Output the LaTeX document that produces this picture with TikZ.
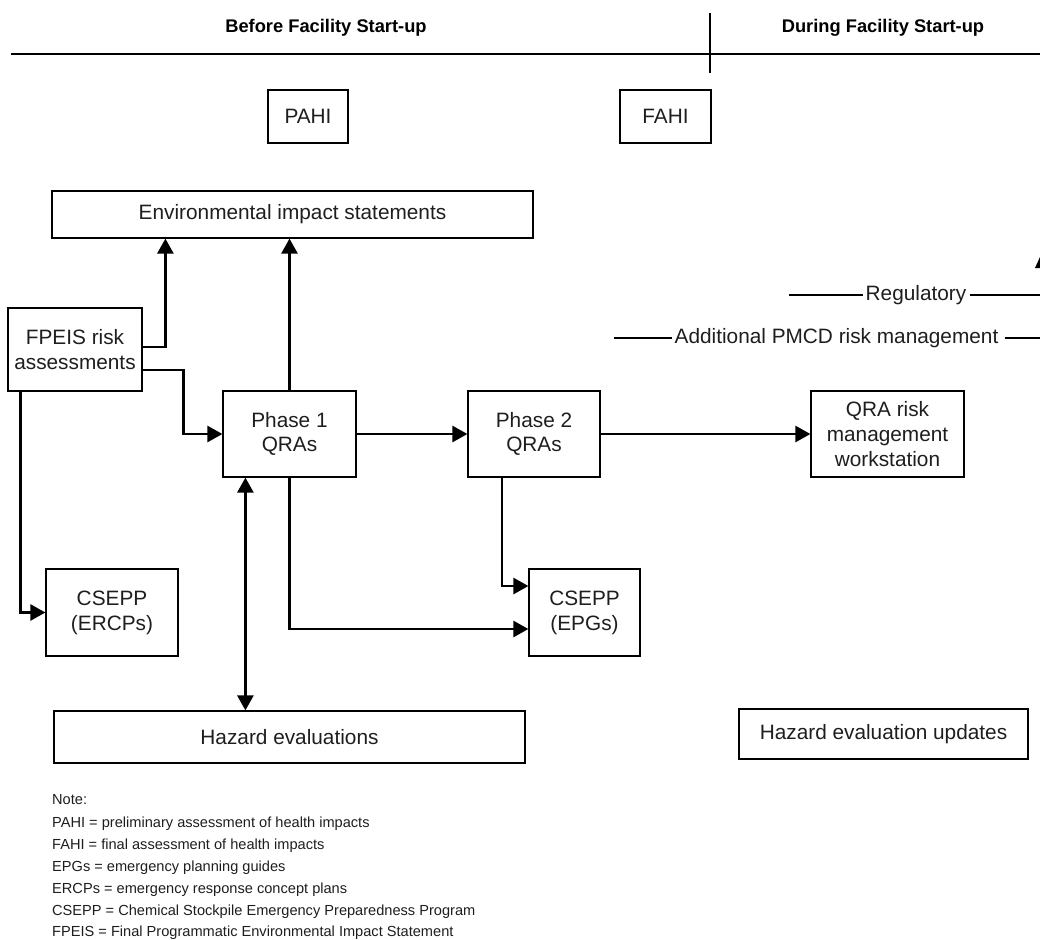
\documentclass[tikz,border=0pt]{standalone}
\usepackage{fontspec}
\setmainfont{Liberation Sans}
\usetikzlibrary{arrows.meta,calc}
\definecolor{txt}{HTML}{1e1e1e}
\tikzset{
  box/.style={draw=black, line width=1.2pt, inner sep=0pt, align=center, text=txt,
    font=\fontsize{20.8}{24.8}\selectfont},
  tip/.tip={Triangle[length=15pt,width=16pt]},
  conn/.style={line width=2.6pt, -tip},
  biconn/.style={line width=2.6pt, tip-tip},
  plain/.style={line width=2.6pt},
  head/.style={font=\fontsize{18.3}{22}\selectfont\bfseries, text=black, anchor=base},
  lbl/.style={font=\fontsize{20.8}{24.8}\selectfont, text=txt, inner sep=3pt},
  note/.style={font=\fontsize{14.6}{18}\selectfont, text=txt, anchor=base west, inner sep=0pt}
}
\begin{document}
\begin{tikzpicture}[x=1pt,y=-1pt]
\useasboundingbox (0,0) rectangle (1040,939);
% header
\coordinate (hl) at (11,54);
\coordinate (hr) at (1040,54);
\coordinate (vt) at (710,13);
\coordinate (vb) at (710,73);
\draw[line width=2.8pt] (hl) -- (hr);
\draw[line width=2.4pt] (vt) -- (vb);
\node[head] (before) at (326,33) {Before Facility Start-up};
\node[head] (during) at (883,33) {During Facility Start-up};

% boxes
\node[box, minimum width=80pt, minimum height=53pt] (pahi) at (308,116.5) {PAHI};
\node[box, minimum width=91pt, minimum height=53pt] (fahi) at (665.5,116.5) {FAHI};
\node[box, minimum width=481pt, minimum height=47pt] (env) at (292.5,214.5) {Environmental impact statements};
\node[box, minimum width=134pt, minimum height=83pt] (fpeis) at (75,349.5) {FPEIS risk\\assessments};
\node[box, minimum width=133pt, minimum height=86pt] (ph1) at (289.5,434) {Phase 1\\QRAs};
\node[box, minimum width=132pt, minimum height=86pt] (ph2) at (534,434) {Phase 2\\QRAs};
\node[box, minimum width=153pt, minimum height=86pt] (qra) at (887.5,434) {QRA risk\\management\\workstation};
\node[box, minimum width=132pt, minimum height=87pt] (ercp) at (112,612.5) {CSEPP\\(ERCPs)};
\node[box, minimum width=111pt, minimum height=87pt] (epg) at (584.5,612.5) {CSEPP\\(EPGs)};
\node[box, minimum width=471pt, minimum height=52pt] (haz) at (289.5,737) {Hazard evaluations};
\node[box, minimum width=289pt, minimum height=50pt] (hazu) at (883.5,734) {Hazard evaluation updates};

% connectors
\draw[conn] ([yshift=2.5pt]fpeis.east) -| ([xshift=114pt]env.south west);
\draw[conn] ([yshift=-20.5pt]fpeis.east) -- ++(41,0) |- (ph1.west);
\draw[conn] (ph1.north) -- (ph1.north |- env.south);
\draw[conn] (ph1.east) -- (ph2.west);
\draw[conn] (ph2.east) -- (qra.west);
\draw[conn] ([xshift=13pt]fpeis.south west) |- (ercp.west);
\draw[biconn] ([xshift=23pt]ph1.south west) -- ([xshift=23pt]ph1.south west |- haz.north);
\draw[conn] (ph1.south) |- ([yshift=-16.5pt]epg.west);
\draw[conn] ([xshift=-32pt]ph2.south) |- ([yshift=26.5pt]epg.west);

% right-side cut labels
\node[lbl] (reg) at (916,295) {Regulatory};
\coordinate (regL) at (789,295);
\coordinate (regR) at (1040,295);
\draw[plain] (regL) -- (reg.west);
\draw[plain] (reg.east) -- (regR);
\node[lbl, inner sep=2pt] (pmcd) at (836.5,338) {Additional PMCD risk management};
\coordinate (pmL) at (614,338);
\coordinate (pmR) at (1040,338);
\draw[plain] (pmL) -- (pmcd.west);
\draw[plain] ([xshift=4pt]pmcd.east) -- (pmR);
\fill (1035,268) -- (1040,257) -- (1040,268) -- cycle;

% notes
\node[note] (n0) at (52,804) {Note:};
\node[note] (n1) at (52,827) {PAHI = preliminary assessment of health impacts};
\node[note] (n2) at (52,849) {FAHI = final assessment of health impacts};
\node[note] (n3) at (52,871) {EPGs = emergency planning guides};
\node[note] (n4) at (52,893) {ERCPs = emergency response concept plans};
\node[note] (n5) at (52,915) {CSEPP = Chemical Stockpile Emergency Preparedness Program};
\node[note] (n6) at (52,936) {FPEIS = Final Programmatic Environmental Impact Statement};
\end{tikzpicture}
\end{document}
